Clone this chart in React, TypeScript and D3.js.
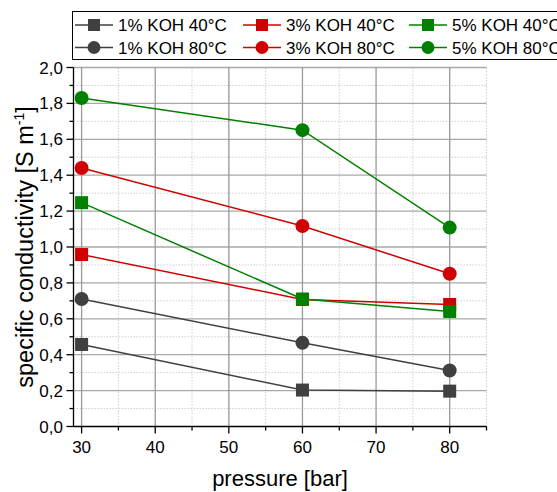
import React from "react";
import * as d3 from "d3";

const pressures = [30, 60, 80];
const seriesNames = ["1% KOH 40°C", "1% KOH 80°C", "3% KOH 40°C", "3% KOH 80°C", "5% KOH 40°C", "5% KOH 80°C"];
const koh1_40 = [0.457, 0.203, 0.197];
const koh1_80 = [0.71, 0.466, 0.312];
const koh3_40 = [0.958, 0.708, 0.68];
const koh3_80 = [1.44, 1.117, 0.851];
const koh5_40 = [1.247, 0.71, 0.641];
const koh5_80 = [1.83, 1.651, 1.108];
const seriesValues = [koh1_40, koh1_80, koh3_40, koh3_80, koh5_40, koh5_80];
const seriesColors = ["#404040", "#404040", "#d00000", "#d00000", "#008000", "#008000"];
const seriesShapes = ["square", "circle", "square", "circle", "square", "circle"];
const xTicks = [30, 40, 50, 60, 70, 80];
const xMinorTicks = [35, 45, 55, 65, 75, 85];
const yTicks = [0, 0.2, 0.4, 0.6, 0.8, 1.0, 1.2, 1.4, 1.6, 1.8, 2.0];
const yMinorTicks = [0.1, 0.3, 0.5, 0.7, 0.9, 1.1, 1.3, 1.5, 1.7, 1.9];

const W = 557, H = 492;
const FONT = "'Liberation Sans', Arial, sans-serif";

function Marker({ shape, x, y, color, size }: { shape: string; x: number; y: number; color: string; size: number }) {
  if (shape === "square") {
    return <rect x={x - size / 2} y={y - size / 2} width={size} height={size} fill={color} />;
  }
  return <circle cx={x} cy={y} r={size / 2 + 0.5} fill={color} />;
}

export default function App() {
  const x = d3.scaleLinear().domain([28.9, 85]).range([73.5, 486.5]);
  const y = d3.scaleLinear().domain([0, 2.0]).range([426.5, 67.5]);
  const line = d3.line<number>().x((_, i) => x(pressures[i])).y((d) => y(d));
  const fmt = (v: number) => v.toFixed(1).replace(".", ",");
  const x0 = x.range()[0], x1 = x.range()[1];
  const y0 = y.range()[0], y1 = y.range()[1];

  const legendCols = [75, 243, 409];
  const legendRows = [25, 47.5];

  return (
    <svg width={W} height={H} style={{ position: "absolute", left: 0, top: 0, background: "#fff" }} fontFamily={FONT}>
      {/* minor grid */}
      {yMinorTicks.map((t) => (
        <line key={"ym" + t} x1={x0} x2={x1} y1={y(t)} y2={y(t)} stroke="#cfcfcf" strokeWidth={1} strokeDasharray="1.5,1.5" />
      ))}
      {xMinorTicks.map((t) => (
        <line key={"xm" + t} x1={x(t)} x2={x(t)} y1={y0} y2={y1} stroke="#cfcfcf" strokeWidth={1} strokeDasharray="1.5,1.5" />
      ))}
      {/* major grid */}
      {yTicks.filter((t) => t > 0).map((t) => (
        <line key={"yg" + t} x1={x0} x2={x1} y1={y(t)} y2={y(t)} stroke="#a8a8a8" strokeWidth={1.3} />
      ))}
      {xTicks.map((t) => (
        <line key={"xg" + t} x1={x(t)} x2={x(t)} y1={y0} y2={y1} stroke="#999" strokeWidth={1.3} />
      ))}
      {/* axes */}
      <line x1={x0} x2={x1} y1={y0} y2={y0} stroke="#000" strokeWidth={1.3} />
      <line x1={x0} x2={x0} y1={y0} y2={y1} stroke="#000" strokeWidth={1.3} />
      {xTicks.map((t) => (
        <g key={"xt" + t}>
          <line x1={x(t)} x2={x(t)} y1={y0} y2={y0 + 7} stroke="#000" strokeWidth={1.3} />
          <text x={x(t)} y={453} fontSize={17} textAnchor="middle" fill="#000">{t}</text>
        </g>
      ))}
      {xMinorTicks.map((t) => (
        <line key={"xmt" + t} x1={x(t)} x2={x(t)} y1={y0} y2={y0 + 4} stroke="#000" strokeWidth={1.3} />
      ))}
      {yTicks.map((t) => (
        <g key={"yt" + t}>
          <line x1={x0 - 7} x2={x0} y1={y(t)} y2={y(t)} stroke="#000" strokeWidth={1.3} />
          <text x={63} y={y(t) + 6} fontSize={17} textAnchor="end" fill="#000">{fmt(t)}</text>
        </g>
      ))}
      {yMinorTicks.map((t) => (
        <line key={"ymt" + t} x1={x0 - 4} x2={x0} y1={y(t)} y2={y(t)} stroke="#000" strokeWidth={1.3} />
      ))}
      {/* axis titles */}
      <text x={280} y={486} fontSize={22} textAnchor="middle" fill="#000">pressure [bar]</text>
      <text transform={`translate(33,${247}) rotate(-90)`} fontSize={23.5} textAnchor="middle" fill="#000">
        specific conductivity [S m<tspan dy={-9} fontSize={14}>-1</tspan><tspan dy={9}>]</tspan>
      </text>
      {/* series */}
      {seriesValues.map((vals, si) => (
        <g key={"s" + si}>
          <path d={line(vals) || ""} fill="none" stroke={seriesColors[si]} strokeWidth={1.5} />
          {vals.map((v, i) => (
            <Marker key={i} shape={seriesShapes[si]} x={x(pressures[i])} y={y(v)} color={seriesColors[si]} size={13} />
          ))}
        </g>
      ))}
      {/* legend */}
      <rect x={72.5} y={11.5} width={520} height={48} fill="#fff" stroke="#000" strokeWidth={1} />
      {seriesNames.map((name, si) => {
        const col = Math.floor(si / 2);
        const row = si % 2;
        const lx = legendCols[col];
        const ly = legendRows[row];
        return (
          <g key={"l" + si}>
            <line x1={lx} x2={lx + 38} y1={ly} y2={ly} stroke={seriesColors[si]} strokeWidth={1.5} />
            <Marker shape={seriesShapes[si]} x={lx + 19} y={ly} color={seriesColors[si]} size={12} />
            <text x={lx + 43} y={ly + 6} fontSize={17} fill="#000">{name}</text>
          </g>
        );
      })}
    </svg>
  );
}
